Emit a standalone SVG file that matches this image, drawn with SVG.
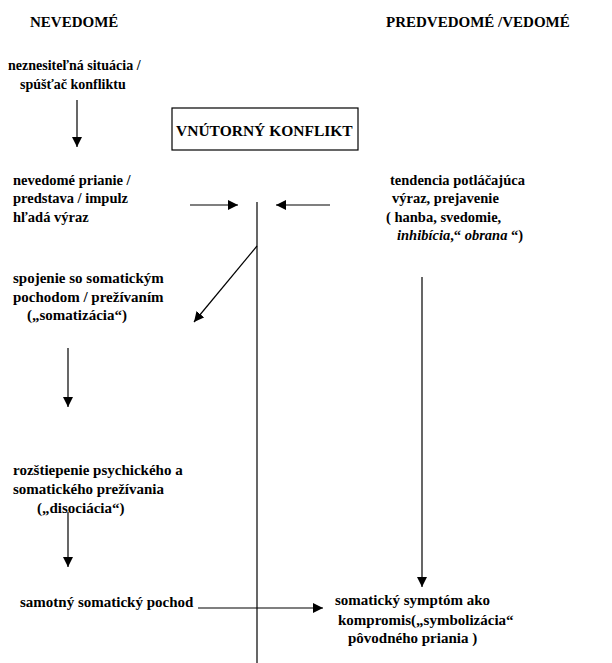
<svg xmlns="http://www.w3.org/2000/svg" width="612" height="663" viewBox="0 0 612 663">
<style>
text{font-family:"Liberation Serif","Times New Roman",serif;font-weight:bold;font-size:14.5px;fill:#000}
.hd{font-size:15px}
.bx{font-size:15.5px}
.sm{font-size:14px}
.lg{font-size:15px}
.ln{stroke:#000;stroke-width:1.2;fill:none}
</style>
<defs>
<marker id="ah" viewBox="0 0 10 10" refX="10" refY="5" markerWidth="10" markerHeight="10" markerUnits="userSpaceOnUse" orient="auto">
<path d="M0,0 L10,5 L0,10 z" fill="#000"/>
</marker>
</defs>
<rect width="612" height="663" fill="#fff"/>
<g id="headers">
<text class="hd" x="30" y="27">NEVEDOMÉ</text>
<text class="hd" x="386" y="27">PREDVEDOMÉ /VEDOMÉ</text>
</g>
<g id="trigger" class="sm">
<text class="sm" x="8" y="70">neznesiteľná situácia /</text>
<text class="sm" x="20" y="89">spúšťač konfliktu</text>
</g>
<g id="conflict">
<rect x="172" y="108" width="186" height="42" class="ln"/>
<text class="bx" x="176" y="136">VNÚTORNÝ KONFLIKT</text>
</g>
<g id="wish">
<text x="13" y="185">nevedomé prianie /</text>
<text x="13" y="203">predstava / impulz</text>
<text x="13" y="222">hľadá výraz</text>
</g>
<g id="suppress">
<text x="390" y="185">tendencia potláčajúca</text>
<text x="392" y="203">výraz, prejavenie</text>
<text x="386" y="222">( hanba, svedomie,</text>
<text x="397" y="240"><tspan font-style="italic">inhibícia</tspan>,“ <tspan font-style="italic">obrana</tspan> “)</text>
</g>
<g id="somatization">
<text class="lg" x="13" y="283">spojenie so somatickým</text>
<text class="lg" x="13" y="302">pochodom / prežívaním</text>
<text class="lg" x="27" y="320">(„somatizácia“)</text>
</g>
<g id="dissociation">
<text class="lg" x="13" y="475">rozštiepenie psychického a</text>
<text class="lg" x="13" y="494">somatického prežívania</text>
<text class="lg" x="37" y="513">(„disociácia“)</text>
</g>
<g id="process">
<text class="lg" x="20" y="607">samotný somatický pochod</text>
</g>
<g id="symptom">
<text class="lg" x="335" y="605">somatický symptóm ako</text>
<text class="lg" x="338" y="625">kompromis(„symbolizácia“</text>
<text class="lg" x="348" y="643">pôvodného priania )</text>
</g>
<g id="connectors">
<line class="ln" x1="77" y1="100" x2="77" y2="147" marker-end="url(#ah)"/>
<line class="ln" x1="190" y1="205" x2="238" y2="205" marker-end="url(#ah)"/>
<line class="ln" x1="330" y1="205" x2="276" y2="205" marker-end="url(#ah)"/>
<line class="ln" x1="257" y1="202" x2="257" y2="663"/>
<line class="ln" x1="257" y1="246" x2="194" y2="322" marker-end="url(#ah)"/>
<line class="ln" x1="422" y1="277" x2="422" y2="587" marker-end="url(#ah)"/>
<line class="ln" x1="68" y1="348" x2="68" y2="407" marker-end="url(#ah)"/>
<line class="ln" x1="68" y1="512" x2="68" y2="567" marker-end="url(#ah)"/>
<line class="ln" x1="198" y1="608" x2="323" y2="608" marker-end="url(#ah)"/>
</g>
</svg>
